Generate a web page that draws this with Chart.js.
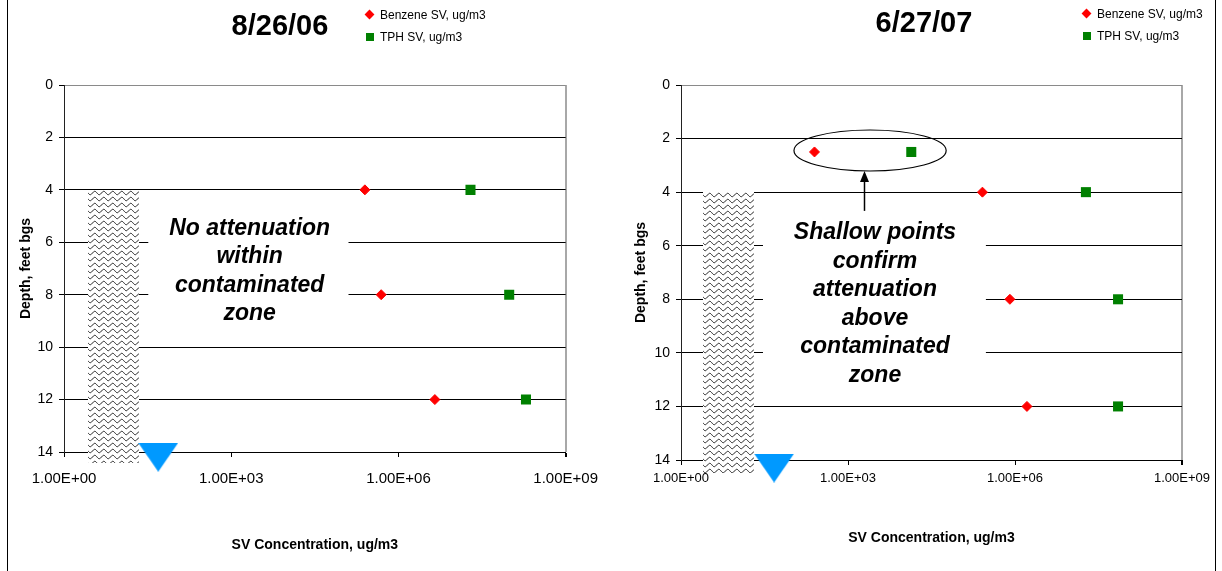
<!DOCTYPE html>
<html>
<head>
<meta charset="utf-8">
<title>SV vs profundidad</title>
<script src="https://cdn.jsdelivr.net/npm/chart.js@4.4.0/dist/chart.umd.min.js"></script>
<style>
  body { margin: 0; background: #fff; font-family: "Liberation Sans", Arial, sans-serif; }
  #lienzo { position: relative; width: 1222px; height: 571px; overflow: hidden; background: #fff; }
  .panel { position: absolute; top: 0; width: 611px; height: 571px; }
  .panel canvas { position: absolute; left: 0; top: 0; }
  .titulo { position: absolute; width: 200px; text-align: center; font-weight: bold; font-size: 29px; line-height: 30px; color: #000; }
  .leyenda { position: absolute; font-size: 12px; line-height: 22px; color: #000; }
  .leyenda div { position: relative; padding-left: 15px; white-space: nowrap; }
  .rombo { position: absolute; left: 1px; top: 7px; width: 7px; height: 7px; background: #f00; transform: rotate(45deg); }
  .cuadro { position: absolute; left: 1px; top: 7px; width: 8px; height: 8px; background: #008000; }
  .marco { position: absolute; top: 0; width: 1px; height: 571px; background: #000; }
</style>
</head>
<body>
<div id="lienzo">
  <div class="panel" style="left:0">
    <canvas id="grafico2006" width="611" height="571"></canvas>
    <div class="titulo" style="left:180px; top:10px">8/26/06</div>
    <div class="leyenda" style="left:365px; top:4px">
      <div><span class="rombo"></span>Benzene SV, ug/m3</div>
      <div><span class="cuadro"></span>TPH SV, ug/m3</div>
    </div>
  </div>
  <div class="panel" style="left:611px">
    <canvas id="grafico2007" width="611" height="571"></canvas>
    <div class="titulo" style="left:213px; top:7px">6/27/07</div>
    <div class="leyenda" style="left:471px; top:3px">
      <div><span class="rombo"></span>Benzene SV, ug/m3</div>
      <div><span class="cuadro"></span>TPH SV, ug/m3</div>
    </div>
  </div>
  <div class="marco" style="left:7px"></div>
  <div class="marco" style="left:1215px"></div>
</div>

<script>
// ✅ Datos de campo (ug/m3 vs profundidad en pies)
const profundidades2006 = [4, 8, 12];
const benceno2006 = [2.5e5, 4.9e5, 4.5e6];
const tph2006 = [1.96e7, 9.7e7, 1.94e8];

const profundidades2007 = [2.5, 4, 8, 12];
const benceno2007 = [250, 2.6e5, 8.1e5, 1.64e6];
const tph2007 = [1.37e4, 1.88e7, 7.1e7, 7.1e7];

// nivel freatico (triangulo azul)
const aguaConc2006 = [49];
const aguaProf2006 = [14.2];
const aguaConc2007 = [47];
const aguaProf2007 = [14.3];

const ticksProfundidad = [0, 2, 4, 6, 8, 10, 12, 14];
const ticksConc = [1, 1e3, 1e6, 1e9];
const etiquetasConc = ["1.00E+00", "1.00E+03", "1.00E+06", "1.00E+09"];

const FUENTE = '"Liberation Sans", Arial, sans-serif';
Chart.defaults.font.family = FUENTE;
Chart.defaults.color = "#000";

function puntos(xs, ys) {
  return xs.map((v, i) => ({ x: v, y: ys[i] }));
}

// patron ondulado para la zona contaminada
function crearOndas() {
  const c = document.createElement("canvas");
  c.width = 9; c.height = 6;
  const g = c.getContext("2d");
  g.fillStyle = "#fff";
  g.fillRect(0, 0, 9, 6);
  g.strokeStyle = "#1a1a1a";
  g.lineWidth = 1;
  g.beginPath();
  for (let i = -1; i <= 10; i += 0.5) {
    const yy = 3 + 1.7 * Math.sin((i / 9) * 2 * Math.PI);
    if (i === -1) g.moveTo(i, yy); else g.lineTo(i, yy);
  }
  g.stroke();
  return c;
}

function crearTriangulo() {
  const c = document.createElement("canvas");
  c.width = 40; c.height = 29;
  const g = c.getContext("2d");
  g.fillStyle = "#0099ff";
  g.beginPath();
  g.moveTo(0, 0);
  g.lineTo(40, 0);
  g.lineTo(20, 29);
  g.closePath();
  g.fill();
  return c;
}

// Zona rayada, caja blanca con texto, elipse y flecha
function pluginDecoracion(cfg) {
  return {
    id: "decoracion",
    beforeDatasetsDraw(chart) {
      const ctx = chart.ctx;
      const sx = chart.scales.x, sy = chart.scales.y;
      ctx.save();

      const z = cfg.zona;
      const zx1 = Math.round(sx.getPixelForValue(z.desde));
      const zx2 = Math.round(sx.getPixelForValue(z.hasta));
      const zy1 = Math.round(sy.getPixelForValue(z.arriba));
      const zy2 = Math.round(sy.getPixelForValue(z.abajo));
      const patron = ctx.createPattern(crearOndas(), "repeat");
      patron.setTransform(new DOMMatrix().translate(zx1, zy1));
      ctx.fillStyle = patron;
      ctx.fillRect(zx1, zy1, zx2 - zx1, zy2 - zy1);

      const b = cfg.caja;
      const bx1 = sx.getPixelForValue(b.desde), bx2 = sx.getPixelForValue(b.hasta);
      const by1 = sy.getPixelForValue(b.arriba), by2 = sy.getPixelForValue(b.abajo);
      ctx.fillStyle = "#fff";
      ctx.fillRect(bx1, by1, bx2 - bx1, by2 - by1);

      ctx.font = "italic bold 23px " + FUENTE;
      ctx.fillStyle = "#000";
      ctx.textAlign = "center";
      ctx.textBaseline = "middle";
      const tx = sx.getPixelForValue(cfg.texto.x);
      const ty = sy.getPixelForValue(cfg.texto.y);
      const n = cfg.texto.lineas.length;
      cfg.texto.lineas.forEach((linea, i) => {
        ctx.fillText(linea, tx, ty + (i - (n - 1) / 2) * 28.6);
      });

      if (cfg.elipse) {
        const e = cfg.elipse;
        const ex1 = sx.getPixelForValue(e.desde), ex2 = sx.getPixelForValue(e.hasta);
        const ey1 = sy.getPixelForValue(e.arriba), ey2 = sy.getPixelForValue(e.abajo);
        ctx.strokeStyle = "#000";
        ctx.lineWidth = 1.2;
        ctx.beginPath();
        ctx.ellipse((ex1 + ex2) / 2, (ey1 + ey2) / 2, (ex2 - ex1) / 2, (ey2 - ey1) / 2, 0, 0, Math.PI * 2);
        ctx.stroke();

        const f = cfg.flecha;
        const fx = Math.round(sx.getPixelForValue(f.x)) + 0.5;
        const fy1 = sy.getPixelForValue(f.desde), fy2 = sy.getPixelForValue(f.hasta);
        ctx.lineWidth = 1.5;
        ctx.beginPath();
        ctx.moveTo(fx, fy1);
        ctx.lineTo(fx, fy2 + 8);
        ctx.stroke();
        ctx.fillStyle = "#000";
        ctx.beginPath();
        ctx.moveTo(fx, fy2);
        ctx.lineTo(fx - 4.5, fy2 + 11);
        ctx.lineTo(fx + 4.5, fy2 + 11);
        ctx.closePath();
        ctx.fill();
      }
      ctx.restore();
    }
  };
}

function crearGrafico(id, cfg) {
  return new Chart(document.getElementById(id), {
    type: "scatter",
    data: {
      datasets: [
        {
          label: "Benzene SV, ug/m3",
          data: puntos(cfg.benceno, cfg.profundidades),
          pointStyle: "rectRot",
          pointRadius: 5,
          borderWidth: 1,
          backgroundColor: "#ff0000",
          borderColor: "#ff0000"
        },
        {
          label: "TPH SV, ug/m3",
          data: puntos(cfg.tph, cfg.profundidades),
          pointStyle: "rect",
          pointRadius: 7.1,
          borderWidth: 0,
          backgroundColor: "#008000",
          borderColor: "#008000"
        },
        {
          // la imagen se dibuja a su tamaño; el radio solo evita que se descarte fuera del area
          label: "Nivel freatico",
          data: puntos(cfg.aguaConc, cfg.aguaProf),
          pointStyle: crearTriangulo(),
          pointRadius: 25,
          borderWidth: 0,
          clip: false
        }
      ]
    },
    options: {
      responsive: false,
      animation: false,
      events: [],
      layout: { padding: cfg.padding },
      plugins: { legend: { display: false }, tooltip: { enabled: false } },
      scales: {
        x: {
          type: "logarithmic",
          min: 1,
          max: 1e9,
          afterBuildTicks: (s) => { s.ticks = ticksConc.map((v) => ({ value: v })); },
          afterFit: (s) => { s.height = cfg.altoX; },
          ticks: {
            autoSkip: false,
            maxRotation: 0,
            padding: cfg.padTickX,
            font: { size: cfg.fuenteTickX },
            color: "#000",
            callback: (v, i) => etiquetasConc[i]
          },
          grid: {
            color: (c) => (c.tick && c.tick.value === 1e9 ? "#a8a8a8" : "rgba(0,0,0,0)"),
            lineWidth: (c) => (c.tick && c.tick.value === 1e9 ? 2 : 1),
            tickColor: "#000",
            tickLength: 5
          },
          border: { color: "#000", width: 1 },
          title: {
            display: true,
            text: "SV Concentration, ug/m3",
            font: { size: 14, weight: "bold" },
            color: "#000",
            padding: { top: 0, bottom: cfg.padTituloX }
          }
        },
        y: {
          type: "linear",
          reverse: true,
          min: 0,
          max: 14,
          afterBuildTicks: (s) => { s.ticks = ticksProfundidad.map((v) => ({ value: v })); },
          afterFit: (s) => { s.width = cfg.anchoY; },
          ticks: { padding: 6, font: { size: 14 }, color: "#000" },
          grid: {
            color: (c) => (c.tick && c.tick.value === 0 ? "#8a8a8a" : "#000"),
            tickColor: "#000",
            tickLength: 5
          },
          border: { color: "#222", width: 1 },
          title: {
            display: true,
            text: "Depth, feet bgs",
            font: { size: 14, weight: "bold" },
            color: "#000",
            padding: { top: cfg.padTituloY, bottom: 0 }
          }
        }
      }
    },
    plugins: [pluginDecoracion(cfg)]
  });
}

crearGrafico("grafico2006", {
  profundidades: profundidades2006,
  benceno: benceno2006,
  tph: tph2006,
  aguaConc: aguaConc2006,
  aguaProf: aguaProf2006,
  padding: { top: 85, right: 41, bottom: 10, left: 10 },
  anchoY: 54,
  altoX: 109,
  padTickX: 13,
  fuenteTickX: 15,
  padTituloX: 7.6,
  padTituloY: 7.6,
  zona: { desde: 2.7, hasta: 22.5, arriba: 4, abajo: 14.42 },
  caja: { desde: 32.5, hasta: 1.27e5, arriba: 4.4, abajo: 9.5 },
  texto: { x: 2140, y: 7.1, lineas: ["No attenuation", "within", "contaminated", "zone"] }
});

crearGrafico("grafico2007", {
  profundidades: profundidades2007,
  benceno: benceno2007,
  tph: tph2007,
  aguaConc: aguaConc2007,
  aguaProf: aguaProf2007,
  padding: { top: 85, right: 40, bottom: 10, left: 10 },
  anchoY: 60,
  altoX: 101,
  padTickX: 6,
  fuenteTickX: 13,
  padTituloX: 14.6,
  padTituloY: 11.6,
  zona: { desde: 2.48, hasta: 20.5, arriba: 4, abajo: 14.48 },
  caja: { desde: 29.7, hasta: 3.0e5, arriba: 4.5, abajo: 11.6 },
  texto: { x: 3055, y: 8.18, lineas: ["Shallow points", "confirm", "attenuation", "above", "contaminated", "zone"] },
  elipse: { desde: 107, hasta: 5.8e4, arriba: 1.68, abajo: 3.21 },
  flecha: { x: 1937, desde: 4.7, hasta: 3.21 }
});
</script>
</body>
</html>
